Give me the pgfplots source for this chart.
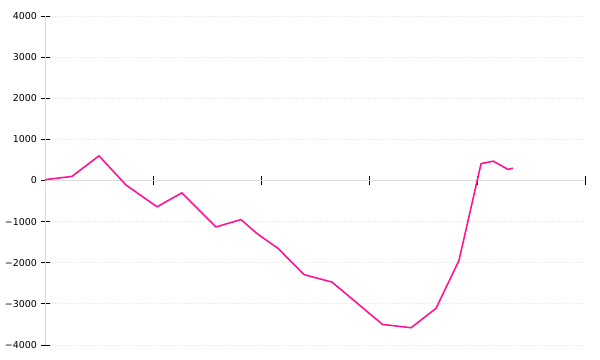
\documentclass[border=0pt]{standalone}
\usepackage{pgfplots}
\pgfplotsset{compat=1.18}
\usepackage{fontspec}
\setmainfont{DejaVu Sans}
\definecolor{linepink}{RGB}{255,20,147}
\definecolor{axgray}{RGB}{220,220,220}
\definecolor{gridgray}{RGB}{230,230,230}
\begin{document}
\begin{tikzpicture}
\begin{axis}[
  scale only axis,
  width=540bp, height=329bp,
  xmin=0, xmax=20, ymin=-4000, ymax=4000,
  axis x line=middle, axis y line=left,
  axis line style={axgray, line width=0.8pt, -},
  xtick={0,4,8,12,16,20}, xticklabels={},
  ytick={-4000,-3000,...,4000},
  yticklabels={−4000,−3000,−2000,−1000,0,1000,2000,3000,4000},
  tick style={black, line width=0.8pt},
  tick align=center, major tick length=9bp,
  ymajorgrids, grid style={gridgray, dotted, line width=0.8pt},
  yticklabel style={font=\fontsize{9.5}{10}\selectfont},
  clip=false,
]
\addplot[linepink, line width=1.6pt, line join=round] coordinates {
(0,20) (1,100) (2,600) (3,-110) (4.15,-640) (5.07,-300) (6.33,-1130)
(7.26,-950) (7.85,-1290) (8.63,-1650) (9.6,-2290) (10.63,-2470)
(12.5,-3500) (13.56,-3580) (14.48,-3110) (15.33,-1950) (16.15,410)
(16.6,470) (17.15,270) (17.33,300)
};
\end{axis}
\pgfresetboundingbox
\path[use as bounding box] (-45bp,-15bp) rectangle (555bp,345bp);
\end{tikzpicture}
\end{document}
